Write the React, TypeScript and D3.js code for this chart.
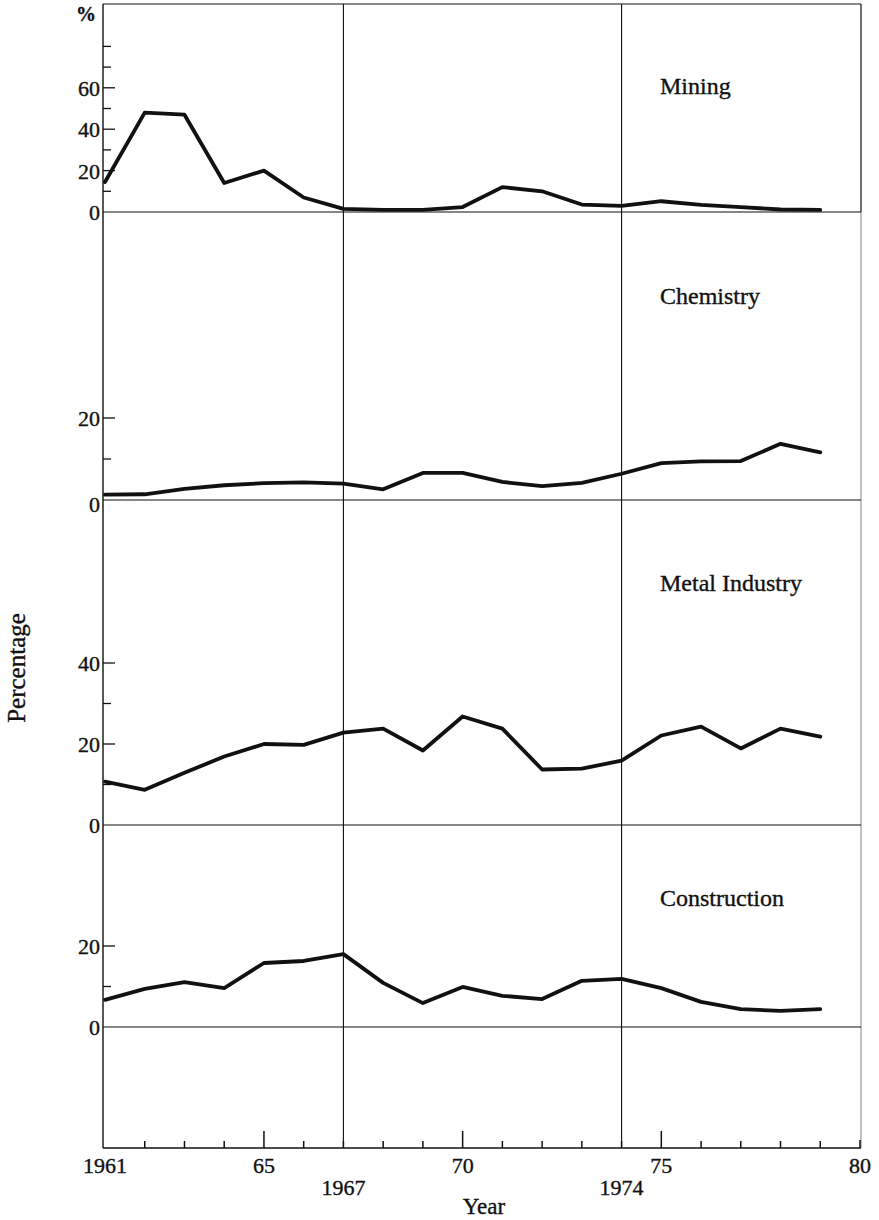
import React from "react";
import * as d3 from "d3";

const years = [1961, 1962, 1963, 1964, 1965, 1966, 1967, 1968, 1969, 1970, 1971, 1972, 1973, 1974, 1975, 1976, 1977, 1978, 1979];
const mining = [14.5, 48, 47, 14, 20, 7, 1.5, 1, 1, 2.4, 12, 10, 3.6, 3, 5.2, 3.4, 2.4, 1.2, 1];
const chemistry = [1.3, 1.4, 2.7, 3.6, 4.1, 4.3, 4.0, 2.6, 6.6, 6.6, 4.4, 3.4, 4.2, 6.4, 9.0, 9.4, 9.5, 13.7, 11.6];
const metal = [10.7, 8.7, 12.9, 16.9, 20, 19.8, 22.8, 23.8, 18.4, 26.8, 23.8, 13.7, 13.9, 15.9, 22.1, 24.3, 18.9, 23.8, 21.8];
const construction = [6.7, 9.4, 11.1, 9.6, 15.8, 16.3, 18, 10.9, 5.9, 9.9, 7.7, 6.9, 11.4, 11.9, 9.6, 6.2, 4.4, 4.0, 4.4];

const xMajorTicks = [1965, 1970, 1975];
const xLabels = [
  { v: 1961, t: "1961", row: 0 },
  { v: 1965, t: "65", row: 0 },
  { v: 1970, t: "70", row: 0 },
  { v: 1975, t: "75", row: 0 },
  { v: 1980, t: "80", row: 0 },
  { v: 1967, t: "1967", row: 1 },
  { v: 1974, t: "1974", row: 1 },
];
const markerYears = [1967, 1974];

const panels = [
  { name: "Mining", values: mining, zeroY: 212, pxPer20: 41.4, ticks: [10, 20, 30, 40, 50, 60, 70, 80], labels: [0, 20, 40, 60], titleY: 85, zeroDy: 0 },
  { name: "Chemistry", values: chemistry, zeroY: 500, pxPer20: 82, ticks: [10, 20], labels: [0, 20], titleY: 295, zeroDy: 4 },
  { name: "Metal Industry", values: metal, zeroY: 825, pxPer20: 81, ticks: [10, 20, 30, 40], labels: [0, 20, 40], titleY: 582, zeroDy: 0 },
  { name: "Construction", values: construction, zeroY: 1027, pxPer20: 81, ticks: [10, 20], labels: [0, 20], titleY: 897, zeroDy: 0 },
];

const W = 879;
const H = 1220;
const LEFT = 103;
const RIGHT = 861;
const TOP = 4;
const AXIS_Y = 1148;
const FONT = "'Liberation Serif', 'Times New Roman', serif";
const INK = "#111";
const TXT = { fill: INK, stroke: INK, strokeWidth: 0.35 };

export default function App() {
  const x = d3.scaleLinear().domain([1961, 1980]).range([105, 860]);
  const allYears = d3.range(1962, 1980);

  return (
    <svg width={W} height={H} style={{ position: "absolute", left: 0, top: 0, background: "#fff" }} fontFamily={FONT}>
      <rect x={0} y={0} width={W} height={H} fill="#fff" />
      {/* frame */}
      <line x1={LEFT} x2={RIGHT} y1={TOP} y2={TOP} stroke={INK} strokeWidth={1.2} />
      <line x1={LEFT} x2={LEFT} y1={TOP} y2={AXIS_Y} stroke={INK} strokeWidth={1.4} />
      <line x1={RIGHT} x2={RIGHT} y1={TOP} y2={212} stroke={INK} strokeWidth={1.2} />
      <line x1={RIGHT} x2={RIGHT} y1={212} y2={AXIS_Y} stroke="#777" strokeWidth={0.9} />
      <line x1={LEFT} x2={RIGHT} y1={AXIS_Y} y2={AXIS_Y} stroke={INK} strokeWidth={1.4} />
      {markerYears.map((m) => (
        <line key={m} x1={x(m)} x2={x(m)} y1={TOP} y2={AXIS_Y} stroke={INK} strokeWidth={1.1} />
      ))}
      {/* x ticks */}
      {allYears.map((yr) => (
        <line key={yr} x1={x(yr)} x2={x(yr)} y1={AXIS_Y} y2={AXIS_Y - (xMajorTicks.includes(yr) ? 17 : 7)} stroke={INK} strokeWidth={1.5} />
      ))}
      <line x1={x(1980)} x2={x(1980)} y1={AXIS_Y} y2={AXIS_Y - 8} stroke={INK} strokeWidth={1.5} />
      {xLabels.map((l) => (
        <text key={l.t} x={x(l.v)} y={l.row === 0 ? 1173 : 1195} textAnchor="middle" fontSize={22} {...TXT}>
          {l.t}
        </text>
      ))}
      <text x={484} y={1214} textAnchor="middle" fontSize={23} {...TXT}>Year</text>
      <text transform="translate(25,668) rotate(-90)" textAnchor="middle" fontSize={25} {...TXT}>Percentage</text>
      <text x={86} y={21} textAnchor="middle" fontSize={20} fontWeight="bold" {...TXT}>%</text>

      {panels.map((p) => {
        const y = d3.scaleLinear().domain([0, 20]).range([p.zeroY, p.zeroY - p.pxPer20]);
        const line = d3
          .line<number>()
          .x((_, i) => x(years[i]))
          .y((v) => y(v));
        return (
          <g key={p.name}>
            <line x1={LEFT} x2={RIGHT} y1={p.zeroY} y2={p.zeroY} stroke={INK} strokeWidth={1.2} />
            {p.ticks.map((t) => (
              <line key={t} x1={LEFT} x2={LEFT + (p.labels.includes(t) ? 12 : 8)} y1={y(t)} y2={y(t)} stroke={INK} strokeWidth={1.3} />
            ))}
            {p.labels.map((t) => (
              <text key={t} x={100} y={y(t) + (t === 0 ? p.zeroDy : 0)} dy="0.36em" textAnchor="end" fontSize={22} {...TXT}>
                {t}
              </text>
            ))}
            <text x={660} y={p.titleY} dy="0.36em" fontSize={24} {...TXT}>{p.name}</text>
            <path d={line(p.values) || ""} fill="none" stroke={INK} strokeWidth={3.8} strokeLinejoin="round" strokeLinecap="round" />
          </g>
        );
      })}
    </svg>
  );
}
